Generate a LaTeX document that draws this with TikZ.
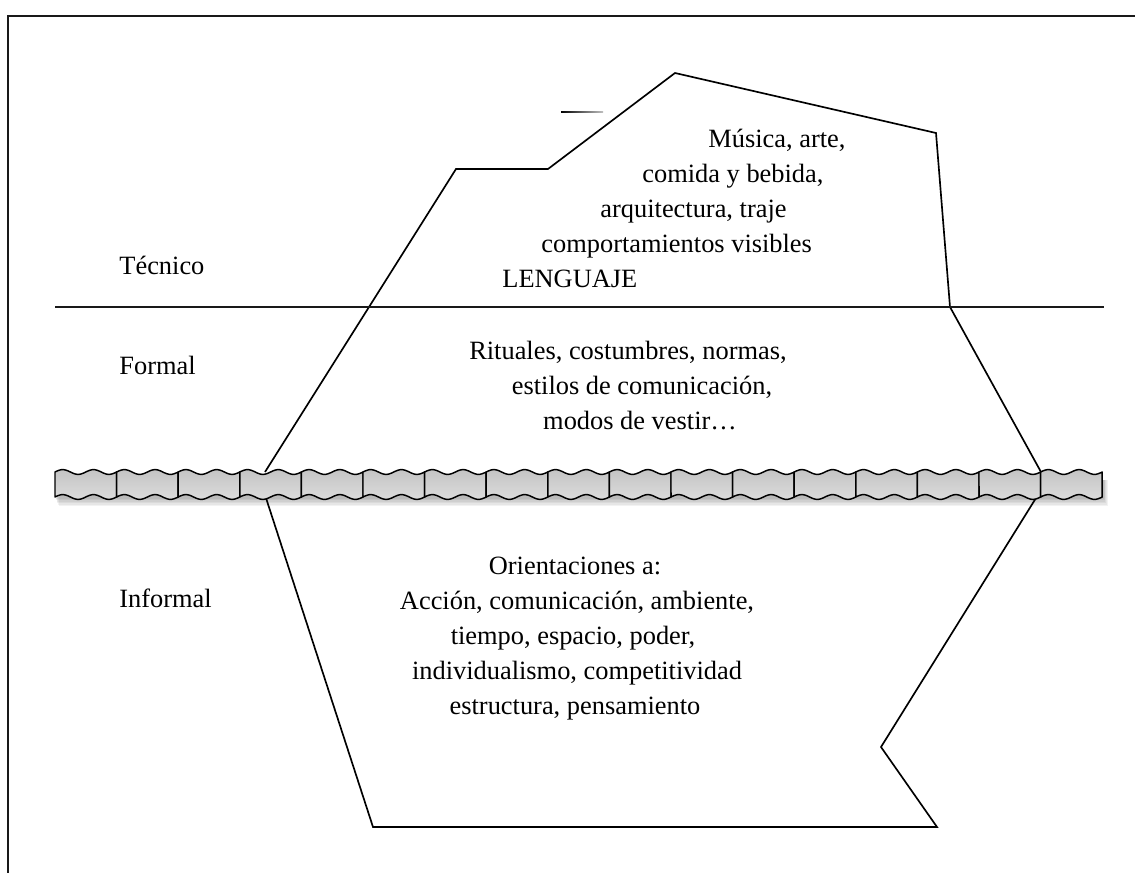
\documentclass[tikz,border=0pt]{standalone}
\usepackage{fontspec}
\setmainfont{Liberation Serif}
\definecolor{bandtop}{gray}{0.77}
\definecolor{bandbot}{gray}{0.86}
\tikzset{
  frameline/.style={line width=0.85pt, black!90},
  bergline/.style={line width=0.8pt, line join=miter, black},
  sealine/.style={line width=0.75pt, black!90},
  txt/.style={font=\fontsize{12.67pt}{15.2pt}\selectfont, inner sep=0pt, anchor=base},
  lbl/.style={txt, anchor=base west},
  bandseg/.style={top color=bandtop, bottom color=bandbot, draw=black, line width=0.7pt, line join=round}
}
\begin{document}
\begin{tikzpicture}[x=0.48pt,y=-0.48pt]
\useasboundingbox (0,0) rectangle (1135,873);
% frame
\draw[frameline] (8,873) -- (8,16) -- (1135,16);
% iceberg outline
\coordinate (a1) at (265,472);
\coordinate (a2) at (456,169);
\coordinate (a3) at (548,169);
\coordinate (a4) at (675,73);
\coordinate (a5) at (936,133);
\coordinate (a6) at (950,307);
\coordinate (a7) at (1041,472);
\coordinate (b1) at (1036,498);
\coordinate (b2) at (881,747);
\coordinate (b3) at (937,827);
\coordinate (b4) at (373,827);
\coordinate (b5) at (266,498);
\draw[bergline] (a1) -- (a2) -- (a3) -- (a4) -- (a5) -- (a6) -- (a7);
\draw[bergline] (b1) -- (b2) -- (b3) -- (b4) -- (b5);
% faded short line
\shade[left color=black, right color=black!25] (561,111.2) rectangle (603,112.8);
% horizontal water line
\draw[sealine] (55,307) -- (1104,307);
% shadow of band
\foreach \k in {1,...,6}{
  \fill[black, opacity=0.05] (55+\k*0.6, 480) rectangle (1103+\k*0.8, 497+\k*1.5);
}
% band segments
\foreach \i in {0,...,16}{
  \pgfmathsetmacro{\xa}{55+61.6*\i}
  \shade[bandseg] plot[domain=0:1, samples=29] ({\xa+61.6*\x},{472-2.4*sin(720*\x)})
     -- plot[domain=1:0, samples=29] ({\xa+61.6*\x},{497-2.4*sin(720*\x)}) -- cycle;
}
% left labels
\node[lbl] (tec) at (119,274) {Técnico};
\node[lbl] (for) at (119,374) {Formal};
\node[lbl] (inf) at (119,607) {Informal};
% top block
\node[lbl] (t1) at (708,147) {Música, arte,};
\node[lbl] (t2) at (642,182) {comida y bebida,};
\node[lbl] (t3) at (600,217) {arquitectura, traje};
\node[lbl] (t4) at (541,252) {comportamientos visibles};
\node[lbl] (t5) at (502,287) {LENGUAJE};
% formal block
\node[txt] (f1) at (628,359) {Rituales, costumbres, normas,};
\node[txt] (f2) at (642,394) {estilos de comunicación,};
\node[txt] (f3) at (640,429) {modos de vestir…};
% informal block
\node[txt] (i1) at (575,574) {Orientaciones a:};
\node[txt] (i2) at (577,609) {Acción, comunicación, ambiente,};
\node[txt] (i3) at (573,644) {tiempo, espacio, poder,};
\node[txt] (i4) at (577,679) {individualismo, competitividad};
\node[txt] (i5) at (575,714) {estructura, pensamiento};
\end{tikzpicture}
\end{document}
